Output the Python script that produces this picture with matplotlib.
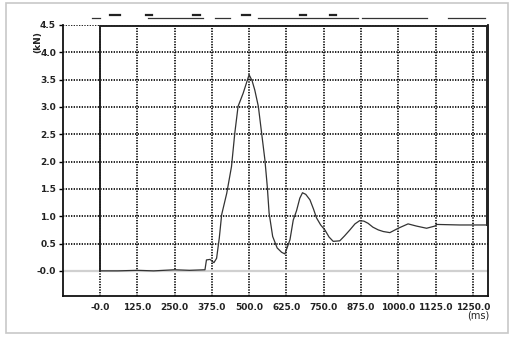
import matplotlib
matplotlib.use("Agg")
import matplotlib.pyplot as plt
from matplotlib.patches import Rectangle
from matplotlib.lines import Line2D

# force trace (ms, kN)
time_ms = [0, 60, 125, 180, 250, 300, 352, 357, 369, 382, 391, 400, 408, 425,
           441, 452, 463, 480, 490, 500, 510, 519, 531, 542, 553, 561, 567,
           579, 594, 609, 620, 637, 648, 659, 670, 679, 690, 704, 716, 726,
           740, 754, 768, 782, 804, 820, 838, 855, 871, 885, 899, 915, 933,
           950, 972, 1000, 1033, 1061, 1095, 1123, 1128, 1206, 1297]
force_kn = [0.0, 0.0, 0.01, 0.0, 0.02, 0.01, 0.02, 0.2, 0.21, 0.15, 0.23, 0.6,
            1.03, 1.42, 1.91, 2.52, 3.01, 3.25, 3.42, 3.59, 3.48, 3.31, 3.01,
            2.52, 2.03, 1.54, 1.06, 0.63, 0.42, 0.34, 0.31, 0.57, 0.93, 1.10,
            1.33, 1.43, 1.40, 1.30, 1.13, 0.97, 0.84, 0.75, 0.62, 0.54, 0.55,
            0.64, 0.75, 0.86, 0.92, 0.91, 0.87, 0.80, 0.75, 0.72, 0.70, 0.78,
            0.86, 0.82, 0.78, 0.82, 0.85, 0.84, 0.84]

# calibration frame of the trace
frame_ms = [1297, 1297, 0, 0]
frame_kn = [0.84, 4.48, 4.48, 0.0]

xticks = [0, 125, 250, 375, 500, 625, 750, 875, 1000, 1125, 1250]
xlabels = ["-0.0", "125.0", "250.0", "375.0", "500.0", "625.0", "750.0",
           "875.0", "1000.0", "1125.0", "1250.0"]
yticks = [0.0, 0.5, 1.0, 1.5, 2.0, 2.5, 3.0, 3.5, 4.0, 4.5]
ylabels = ["-0.0", "0.5", "1.0", "1.5", "2.0", "2.5", "3.0", "3.5", "4.0", "4.5"]

fig = plt.figure(figsize=(5.12, 3.38), dpi=100)
fig.patches.append(Rectangle((6 / 512, 1 - 333 / 338), 502 / 512, 330 / 338,
                             transform=fig.transFigure, fill=False,
                             edgecolor="#c8c8c8", lw=1.2))

ax = fig.add_axes([63 / 512, 1 - 296 / 338, (487.7 - 63) / 512, (296 - 25) / 338])
ax.set_xlim(-124, 1300)
ax.set_ylim(-0.46, 4.5)

# dotted grid, grey zero line
for yv in yticks[1:]:
    ax.axhline(yv, color="black", lw=1.2, ls=(0, (0.8, 0.8)), zorder=1)
for xv in xticks:
    ax.axvline(xv, color="black", lw=1.2, ls=(0, (0.8, 0.8)), zorder=1)
ax.axhline(0, color="#d0d0d0", lw=1.6, zorder=1)

ax.plot(frame_ms, frame_kn, color="#222222", lw=1.4, zorder=3)
ax.plot(time_ms, force_kn, color="#333333", lw=0.9, zorder=3)

ax.spines["top"].set_visible(False)
for s in ["left", "bottom", "right"]:
    ax.spines[s].set_linewidth(1.3)
    ax.spines[s].set_color("#111111")

ax.set_xticks(xticks)
ax.set_xticklabels(xlabels)
ax.set_yticks(yticks)
ax.set_yticklabels(ylabels)
ax.tick_params(axis="x", length=0, pad=5, labelsize=6.5)
ax.tick_params(axis="y", length=3, width=1, pad=2, labelsize=6.5)
for lab in ax.get_xticklabels() + ax.get_yticklabels():
    lab.set_fontweight("bold")
    lab.set_color("#222222")

fig.text(38 / 512, 1 - 42 / 338, "(kN)", rotation=90, fontsize=6.5,
         fontweight="bold", ha="center", va="center", color="#222222")
fig.text(478 / 512, 1 - 316 / 338, "(ms)", fontsize=7, ha="center",
         va="center", color="#222222")

# cut-off header underlines
for x0, x1 in [(92, 100), (148, 203), (215, 230), (258, 358), (362, 427), (448, 485)]:
    fig.add_artist(Line2D([x0 / 512, x1 / 512], [1 - 18 / 338, 1 - 18 / 338],
                          transform=fig.transFigure, color="#333333", lw=0.9))
for x0, x1 in [(110, 120), (146, 152), (193, 200), (242, 250), (300, 306), (330, 336)]:
    fig.add_artist(Line2D([x0 / 512, x1 / 512], [1 - 15 / 338, 1 - 15 / 338],
                          transform=fig.transFigure, color="#222222", lw=1.6))

fig.savefig("out.png", dpi=100)
